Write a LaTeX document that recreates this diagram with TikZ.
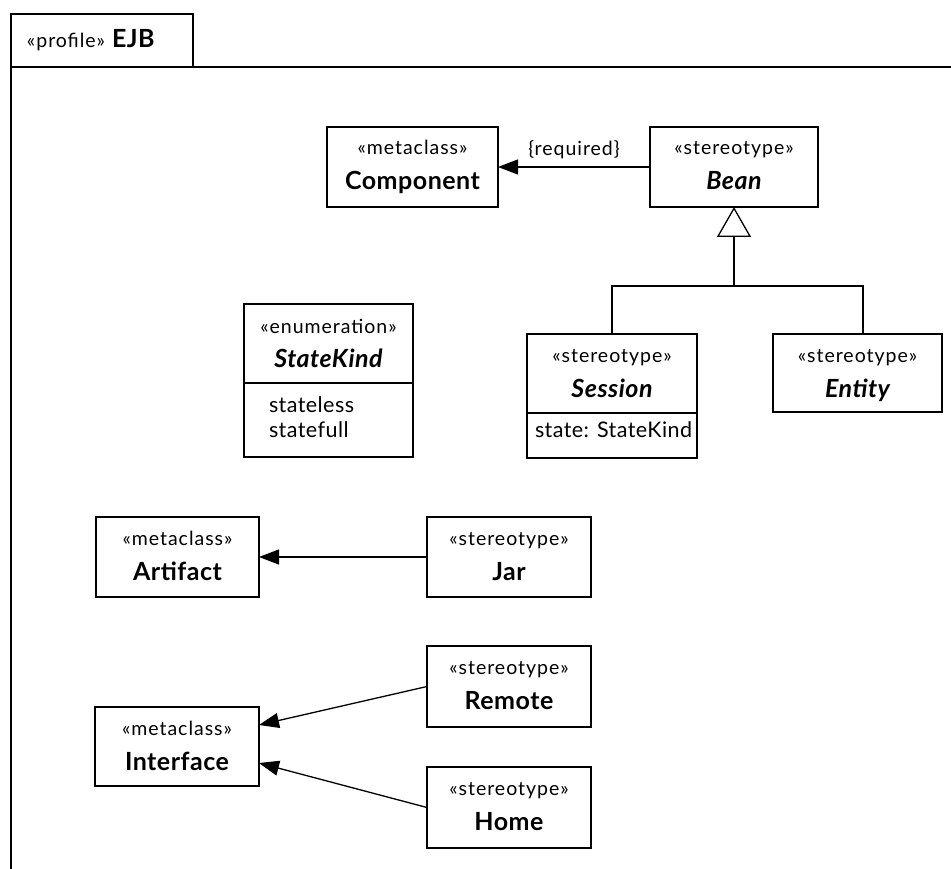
\documentclass[tikz,border=0pt]{standalone}
\usepackage{fontspec}
\setmainfont{Lato}
\usetikzlibrary{arrows.meta,calc}

% text sizes used in the profile
\newcommand{\stfont}{\fontsize{19.5}{21}\selectfont\addfontfeature{LetterSpace=5}}
\newcommand{\nmfont}{\fontsize{25}{27}\selectfont\bfseries\addfontfeature{LetterSpace=2}}
\newcommand{\atfont}{\fontsize{21.5}{23}\selectfont\addfontfeature{LetterSpace=2}}

\begin{document}
\begin{tikzpicture}[x=1pt,y=-1pt,
  every node/.style={inner sep=0pt, outer sep=0pt},
  umlbox/.style={draw, line width=1.3pt, minimum width=#1},
  stereo/.style={anchor=base, font=\stfont},
  cname/.style={anchor=base, font=\nmfont},
  attr/.style={anchor=base west, font=\atfont},
  rule/.style={line width=1.3pt},
  ext/.style={line width=1.3pt, -{Triangle[length=20pt,width=15pt]}},
  gen/.style={line width=1.3pt, -{Triangle[open,length=30pt,width=34pt,fill=white]}}
]
\useasboundingbox (0,0) rectangle (951,869);

% package frame with its name tab
\draw[rule] (11,869) -- (11,14) -- (193,14) -- (193,67);
\draw[rule] (11,67) -- (951,67);
\node[anchor=base west] (plabel) at (27,48) {{\stfont «profile»}\hspace{7pt}{\nmfont EJB}};

% metaclass Component and stereotype Bean
\node[umlbox=171pt, minimum height=80pt] (comp) at (412.5,167) {};
\node[stereo] (comp-st) at ($(comp.north)+(0,28)$) {«metaclass»};
\node[cname] (comp-nm) at ($(comp.north)+(0,63)$) {Component};

\node[umlbox=168pt, minimum height=80pt] (bean) at (734,167) {};
\node[stereo] (bean-st) at ($(bean.north)+(0,28)$) {«stereotype»};
\node[cname] (bean-nm) at ($(bean.north)+(0,63)$) {\itshape Bean};

\draw[ext] (bean.west) -- (comp.east)
  node[pos=0.5, above=8pt, font=\stfont\mdseries] (req) {\{required\}};

% enumeration StateKind
\node[umlbox=169pt, minimum height=153pt] (sk) at (328.5,380.5) {};
\node[stereo] (sk-st) at ($(sk.north)+(0,29)$) {«enumeration»};
\node[cname] (sk-nm) at ($(sk.north)+(0,63)$) {\itshape StateKind};
\draw[rule] ($(sk.north west)+(0,79)$) -- ($(sk.north east)+(0,79)$);
\node[attr] (sk-l1) at ($(sk.north west)+(25,108)$) {stateless};
\node[attr] (sk-l2) at ($(sk.north west)+(25,133)$) {statefull};

% stereotypes Session and Entity
\node[umlbox=170pt, minimum height=124pt] (sess) at (612,396) {};
\node[stereo] (sess-st) at ($(sess.north)+(0,28)$) {«stereotype»};
\node[cname] (sess-nm) at ($(sess.north)+(0,63)$) {\itshape Session};
\draw[rule] ($(sess.north west)+(0,79)$) -- ($(sess.north east)+(0,79)$);
\node[attr] (sess-a) at ($(sess.north west)+(8,103)$) {state: StateKind};

\node[umlbox=169pt, minimum height=78pt] (ent) at (857.5,373) {};
\node[stereo] (ent-st) at ($(ent.north)+(0,28)$) {«stereotype»};
\node[cname] (ent-nm) at ($(ent.north)+(0,63)$) {\itshape Entity};

% generalization tree up to Bean
\coordinate (jn) at (734,286);
\draw[rule] (sess.north) |- (jn) -| ($(ent.north)+(5.5,0)$);
\draw[gen] (jn) -- (bean.south);

% Artifact and Jar
\node[umlbox=163pt, minimum height=80pt] (art) at (177.5,557) {};
\node[stereo] (art-st) at ($(art.north)+(0,28)$) {«metaclass»};
\node[cname] (art-nm) at ($(art.north)+(0,63)$) {Artifact};

\node[umlbox=164pt, minimum height=80pt] (jar) at (509,557) {};
\node[stereo] (jar-st) at ($(jar.north)+(0,28)$) {«stereotype»};
\node[cname] (jar-nm) at ($(jar.north)+(0,63)$) {Jar};

\draw[ext] (jar.west) -- (art.east);

% Interface with Remote and Home
\node[umlbox=164pt, minimum height=79pt] (intf) at (177,746.5) {};
\node[stereo] (intf-st) at ($(intf.north)+(0,28)$) {«metaclass»};
\node[cname] (intf-nm) at ($(intf.north)+(0,63)$) {Interface};

\node[umlbox=164pt, minimum height=81pt] (rem) at (509,686.5) {};
\node[stereo] (rem-st) at ($(rem.north)+(0,28)$) {«stereotype»};
\node[cname] (rem-nm) at ($(rem.north)+(0,63)$) {Remote};

\node[umlbox=164pt, minimum height=81pt] (home) at (509,807.5) {};
\node[stereo] (home-st) at ($(home.north)+(0,28)$) {«stereotype»};
\node[cname] (home-nm) at ($(home.north)+(0,63)$) {Home};

\draw[ext] (rem.west) -- ($(intf.east)+(0,-21.5)$);
\draw[ext] (home.west) -- ($(intf.east)+(0,16.5)$);
\end{tikzpicture}
\end{document}
